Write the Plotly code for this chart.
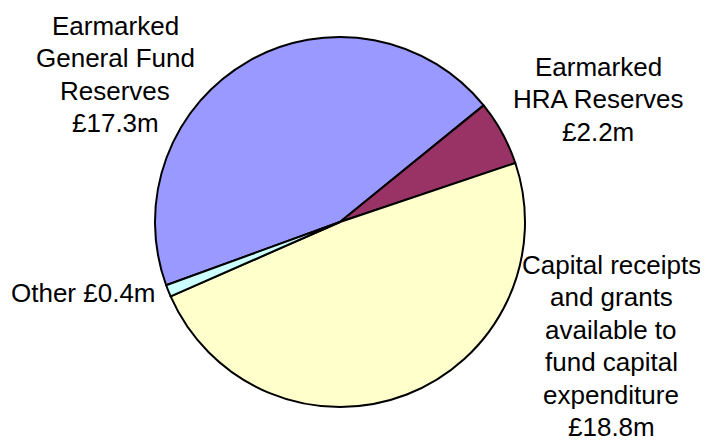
import plotly.graph_objects as go

categories = ["Earmarked General Fund Reserves", "Earmarked HRA Reserves",
              "Capital receipts and grants available to fund capital expenditure", "Other"]
values = [17.3, 2.2, 18.8, 0.4]
label_lines = [
    ["Earmarked", "General Fund", "Reserves", "£17.3m"],
    ["Earmarked", "HRA Reserves", "£2.2m"],
    ["Capital receipts", "and grants", "available to", "fund capital", "expenditure", "£18.8m"],
    ["Other £0.4m"],
]
colors = ["#9999FF", "#993366", "#FFFFCC", "#CCFFFF"]

# page body has an 8px margin; figure is sized to fit the window
OFF = 8
W, H = 708 - OFF, 441 - OFF


def px(x):
    return (x - OFF) / W


def py(y):
    return 1 - (y - OFF) / H


fig = go.Figure(go.Pie(
    labels=categories,
    values=values,
    sort=False,
    direction="clockwise",
    rotation=250,
    marker=dict(colors=colors, line=dict(color="black", width=2)),
    textinfo="none",
    hoverinfo="skip",
    showlegend=False,
    domain=dict(x=[px(155), px(525)], y=[py(407), py(37)]),
))

font = dict(family="Liberation Sans, Arial, sans-serif", size=26, color="black")
LINE = 32.4
# (x of anchor, y of first line centre, anchor)
ann_pos = [
    (115, 26, "center"),
    (598, 67, "center"),
    (611, 265, "center"),
    (158, 293, "right"),
]
for lines, (x, y0, xa) in zip(label_lines, ann_pos):
    for i, ln in enumerate(lines):
        fig.add_annotation(text=ln, x=px(x), y=py(y0 + i * LINE),
                           xref="paper", yref="paper",
                           xanchor=xa, yanchor="middle", showarrow=False,
                           align="center", font=font)

fig.update_layout(width=W, height=H, margin=dict(l=0, r=0, t=0, b=0),
                  paper_bgcolor="white", plot_bgcolor="white")
fig.write_html("out.html")
